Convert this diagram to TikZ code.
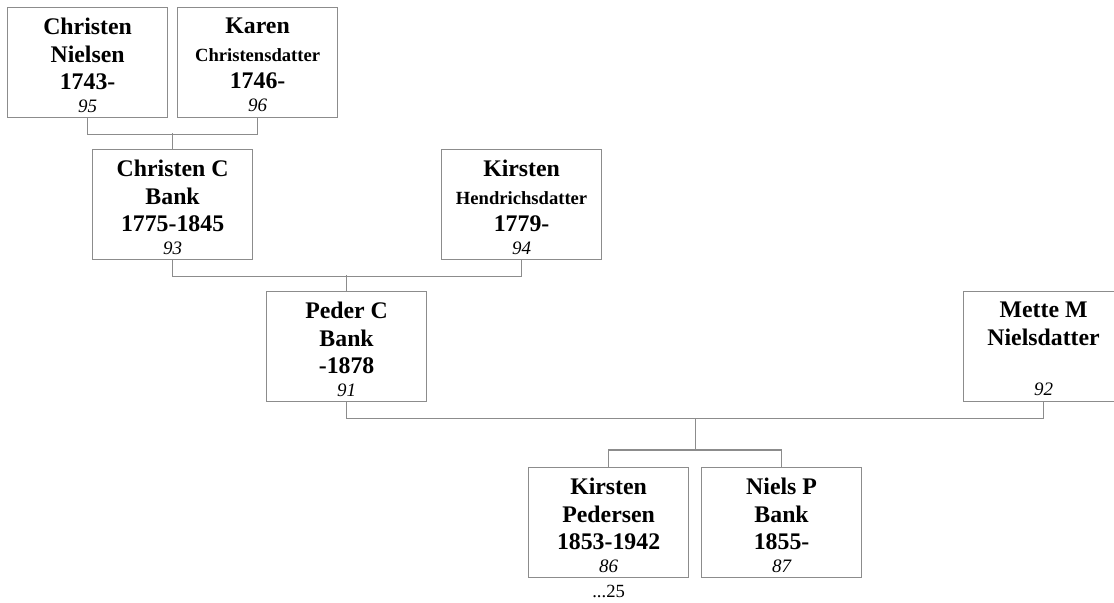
\documentclass[tikz,border=0pt]{standalone}
\usepackage{fontspec}
\setmainfont{Liberation Serif}
\usetikzlibrary{calc,positioning}
\tikzset{%
  pbox/.style={draw=black!45,line width=0.6pt,minimum width=80pt,minimum height=55pt,inner sep=0pt,anchor=north west},
  ptext/.style={anchor=north,inner sep=0pt,align=center,font=\fontsize{11.9}{13.75}\selectfont\bfseries},
  conn/.style={draw=black!45,line width=0.6pt},
  refline/.style={anchor=base,inner sep=0pt,font=\fontsize{9.3}{11}\selectfont}
}
\newcommand\smallname[1]{{\fontsize{9.3}{13.75}\selectfont #1}}
\newcommand\refno[1]{{\fontsize{9.5}{13.75}\selectfont\mdseries\itshape #1}}
\begin{document}
\begin{tikzpicture}[x=0.5pt,y=-0.5pt]
	\useasboundingbox (0,0) rectangle (1114,602);
	\clip (0,0) rectangle (1114,602);
	% boxes
	\node[pbox] (cn) at (7,7) {};
	\node[pbox] (kc) at (177,7) {};
	\node[pbox] (cb) at (92,149) {};
	\node[pbox] (kh) at (441,149) {};
	\node[pbox] (pb) at (266,291) {};
	\node[pbox] (mm) at (963,291) {};
	\node[pbox] (kp) at (528,467) {};
	\node[pbox] (np) at (701,467) {};
	% names
	\node[ptext] at ([yshift=-5.3pt]cn.north) {Christen\\Nielsen\\1743-\\[-2.25pt]\refno{95}};
	\node[ptext] at ([yshift=-5.3pt]kc.north) {Karen\\\smallname{Christensdatter}\\1746-\\[-2.25pt]\refno{96}};
	\node[ptext] at ([yshift=-5.3pt]cb.north) {Christen C\\Bank\\1775-1845\\[-2.25pt]\refno{93}};
	\node[ptext] at ([yshift=-5.3pt]kh.north) {Kirsten\\\smallname{Hendrichsdatter}\\1779-\\[-2.25pt]\refno{94}};
	\node[ptext] at ([yshift=-5.3pt]pb.north) {Peder C\\Bank\\-1878\\[-2.25pt]\refno{91}};
	\node[ptext] at ([yshift=-5.3pt]mm.north) {Mette M\\Nielsdatter\\\mbox{}\\[-2.25pt]\refno{92}};
	\node[ptext] at ([yshift=-5.3pt]kp.north) {Kirsten\\Pedersen\\1853-1942\\[-2.25pt]\refno{86}};
	\node[ptext] at ([yshift=-5.3pt]np.north) {Niels P\\Bank\\1855-\\[-2.25pt]\refno{87}};
	\node[refline] (kpref) at ([yshift=-9.5pt]kp.south) {...25};
	% connectors
	\draw[conn] (cn.south) -- ++(0,16) -| (kc.south);
	\draw[conn] (cb.north) -- ++(0,-16);
	\draw[conn] (cb.south) -- ++(0,16) -| (kh.south);
	\draw[conn] (pb.north) -- ++(0,-16);
	\draw[conn] (pb.south) -- ++(0,16) -| (mm.south);
	\draw[conn] (kp.north) -- ++(0,-17) -| (np.north);
	\draw[conn] ($(pb.south)!.5!(mm.south)+(0,16)$) -- ($(kp.north)!.5!(np.north)+(0,-17)$);
\end{tikzpicture}
\end{document}
